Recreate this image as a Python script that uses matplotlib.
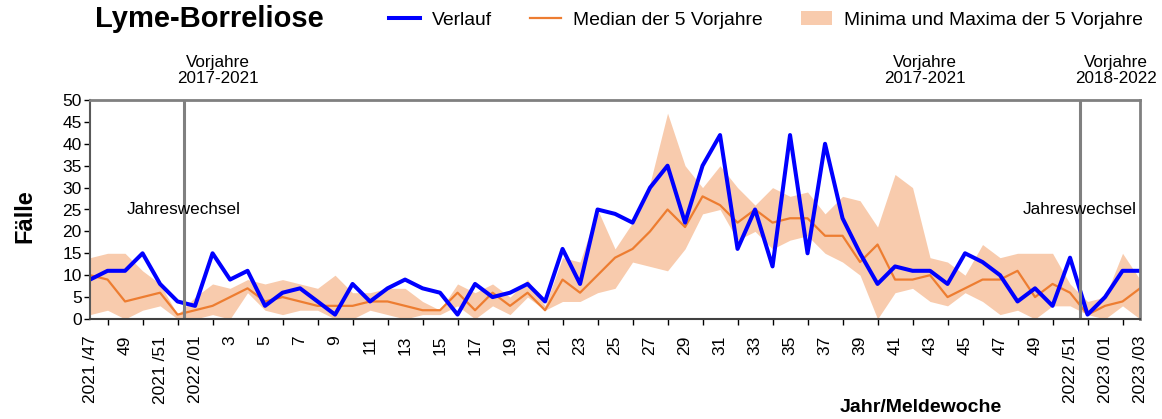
import matplotlib
matplotlib.use('Agg')
import matplotlib.pyplot as plt
from matplotlib.patches import Patch
from matplotlib.lines import Line2D
import numpy as np

plt.rcParams['font.family'] = ['Liberation Sans', 'DejaVu Sans']

# Meldewochen 2021/47 .. 2023/03 (61 Wochen)
tick_labels = ['2021 /47', '49', '2021 /51', '2022 /01'] + [str(w) for w in range(3, 50, 2)] + \
              ['2022 /51', '2023 /01', '2023 /03']

verlauf = [9, 11, 11, 15, 8, 4, 3, 15, 9, 11, 3, 6, 7, 4, 1, 8, 4, 7, 9, 7,
           6, 1, 8, 5, 6, 8, 4, 16, 8, 25, 24, 22, 30, 35, 22, 35, 42, 16, 25, 12,
           42, 15, 40, 23, 15, 8, 12, 11, 11, 8, 15, 13, 10, 4, 7, 3, 14, 1, 5, 11, 11]
median = [10, 9, 4, 5, 6, 1, 2, 3, 5, 7, 4, 5, 4, 3, 3, 3, 4, 4, 3, 2,
          2, 6, 2, 6, 3, 6, 2, 9, 6, 10, 14, 16, 20, 25, 21, 28, 26, 22, 25, 22,
          23, 23, 19, 19, 13, 17, 9, 9, 10, 5, 7, 9, 9, 11, 5, 8, 6, 1, 3, 4, 7]
minima = [1, 2, 0, 2, 3, 0, 0, 1, 0, 6, 2, 1, 2, 2, 0, 0, 2, 1, 0, 1,
          1, 3, 0, 3, 1, 5, 2, 4, 4, 6, 7, 13, 12, 11, 16, 24, 25, 18, 20, 16,
          18, 19, 15, 13, 10, 0, 6, 7, 4, 3, 6, 4, 1, 2, 0, 3, 3, 1, 0, 3, 0]
maxima = [14, 15, 15, 11, 8, 1, 5, 8, 7, 9, 8, 9, 8, 7, 10, 6, 6, 7, 7, 4,
          2, 8, 6, 8, 5, 9, 3, 14, 13, 25, 16, 22, 31, 47, 35, 30, 35, 30, 26, 30,
          28, 29, 24, 28, 27, 21, 33, 30, 14, 13, 10, 17, 14, 15, 15, 15, 8, 4, 5, 15, 9]

jahreswechsel = [5.37, 56.57]
vorjahre_text = [(7.3, 'Vorjahre\n2017-2021'), (47.7, 'Vorjahre\n2017-2021'), (58.6, 'Vorjahre\n2018-2022')]

x = np.arange(len(verlauf))
band_color = '#F8CBAD'
median_color = '#ED7D31'
blue = '#0000FF'

fig = plt.figure(figsize=(11.62, 4.19), dpi=100)
ax = fig.add_axes([0.0775, 0.2387, 0.9036, 0.5226])

ax.fill_between(x, minima, maxima, color=band_color, linewidth=0)
ax.plot(x, median, color=median_color, linewidth=1.6)
ax.plot(x, verlauf, color=blue, linewidth=2.9)

for xv in jahreswechsel:
    ax.axvline(xv, color='#808080', linewidth=2.2)
    ax.text(xv, 25, 'Jahreswechsel', ha='center', va='center', fontsize=12.3)

for xv, txt in vorjahre_text:
    ax.text(xv, 56.8, txt, ha='center', va='center', fontsize=12.3, clip_on=False,
            linespacing=1.1)

ax.set_xlim(0, 60)
ax.set_ylim(0, 50)
ax.set_yticks(np.arange(0, 51, 5))
ax.set_xticks(np.arange(0, 61, 2))
ax.set_xticklabels(tick_labels, rotation=90, fontsize=12.5)
ax.set_xticks(np.arange(1, 60, 2), minor=True)
ax.tick_params(axis='x', which='major', length=0, pad=12)
ax.tick_params(axis='x', which='minor', length=4, width=1, direction='out')
ax.tick_params(axis='y', labelsize=12.5, length=4, width=1, direction='out', pad=2)

for side in ['top', 'right']:
    ax.spines[side].set_color('#808080')
    ax.spines[side].set_linewidth(2)
ax.spines['left'].set_color('#595959')
ax.spines['left'].set_linewidth(1.5)
ax.spines['bottom'].set_color('#404040')
ax.spines['bottom'].set_linewidth(1.5)

ax.set_ylabel('Fälle', fontsize=17, fontweight='bold')
ax.yaxis.set_label_coords(-0.051, 0.47)
fig.text(0.792, 0.027, 'Jahr/Meldewoche', ha='center', va='center', fontsize=14, fontweight='bold')
fig.text(0.082, 0.955, 'Lyme-Borreliose', ha='left', va='center', fontsize=21, fontweight='bold')

handles = [Line2D([], [], color=blue, linewidth=2.9),
           Line2D([], [], color=median_color, linewidth=1.6),
           Patch(facecolor=band_color, edgecolor='none')]
fig.legend(handles, ['Verlauf', 'Median der 5 Vorjahre', 'Minima und Maxima der 5 Vorjahre'],
           loc='center left', bbox_to_anchor=(0.335, 0.952), ncol=3, frameon=False,
           fontsize=13.9, handlelength=1.6, columnspacing=2.0, handletextpad=0.6,
           borderaxespad=0, borderpad=0)

fig.savefig('out.png', dpi=100)
